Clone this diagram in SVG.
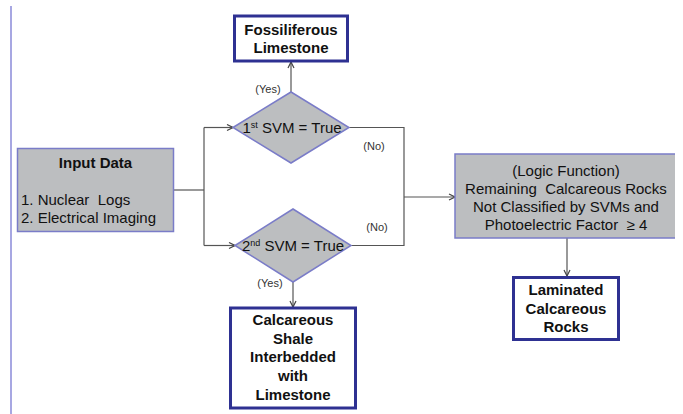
<svg xmlns="http://www.w3.org/2000/svg" width="683" height="414" viewBox="0 0 683 414">
<defs>
<style>
text{font-family:"Liberation Sans",Arial,sans-serif;fill:#111;}
.b{font-weight:bold;font-size:15px;text-anchor:middle;}
.n{font-size:15px;}
.c{text-anchor:middle;}
.lbl{font-size:11px;fill:#333;text-anchor:middle;}
.out{fill:#fff;stroke:#2e3192;stroke-width:3;}
.gray{fill:#bcbec0;stroke:#7a7cc8;stroke-width:1.5;}
.con{fill:none;stroke:#555;stroke-width:1.2;}
</style>
<marker id="ah" markerWidth="8" markerHeight="8" refX="7" refY="4" orient="auto" markerUnits="userSpaceOnUse">
<path d="M1,1 L7,4 L1,7" fill="none" stroke="#444" stroke-width="1.2"/>
</marker>
</defs>
<rect width="683" height="414" fill="#fff"/>
<line x1="11" y1="6" x2="11" y2="414" stroke="#8a8ad8" stroke-width="1.5"/>

<g id="connectors">
<path class="con" d="M174,190 H204"/>
<path class="con" d="M204,127.5 V245.5"/>
<path class="con" d="M204,127.5 H233" marker-end="url(#ah)"/>
<path class="con" d="M204,245.5 H235" marker-end="url(#ah)"/>
<path class="con" d="M291,92 V62" marker-end="url(#ah)"/>
<path class="con" d="M293,282 V307" marker-end="url(#ah)"/>
<path class="con" d="M349,127.5 H404 V245.5 H351"/>
<path class="con" d="M404,197 H455" marker-end="url(#ah)"/>
<path class="con" d="M567,238 V276" marker-end="url(#ah)"/>
<text class="lbl" x="268" y="93">(Yes)</text>
<text class="lbl" x="270" y="287">(Yes)</text>
<text class="lbl" x="374" y="150">(No)</text>
<text class="lbl" x="377" y="231">(No)</text>
</g>

<g id="input">
<rect class="gray" x="17.5" y="148.5" width="156" height="83"/>
<text class="b" x="95.5" y="168">Input Data</text>
<text class="n" x="21" y="205" style="white-space:pre">1. Nuclear  Logs</text>
<text class="n" x="21" y="223">2. Electrical Imaging</text>
</g>

<g id="fossiliferous">
<rect class="out" x="234.5" y="16" width="113" height="45"/>
<text class="b" x="291" y="35">Fossiliferous</text>
<text class="b" x="291" y="53">Limestone</text>
</g>

<g id="svm1">
<polygon class="gray" points="233,127.5 291,92 349,127.5 291,163"/>
<text class="n c" x="292" y="132.5">1<tspan font-size="9" dy="-5">st</tspan><tspan dy="5"> SVM = True</tspan></text>
</g>

<g id="svm2">
<polygon class="gray" points="235,245.5 293,209 351,245.5 293,282"/>
<text class="n c" x="293" y="250.5">2<tspan font-size="9" dy="-5">nd</tspan><tspan dy="5"> SVM = True</tspan></text>
</g>

<g id="calcshale">
<rect class="out" x="230.5" y="308" width="125" height="100"/>
<text class="b" x="293" y="325">Calcareous</text>
<text class="b" x="293" y="343.5">Shale</text>
<text class="b" x="293" y="362">Interbedded</text>
<text class="b" x="293" y="381">with</text>
<text class="b" x="293" y="400">Limestone</text>
</g>

<g id="logic">
<rect x="455" y="154" width="220" height="84" fill="#bcbec0"/>
<path d="M675,154 H455 V238 H675" fill="none" stroke="#7a7cc8" stroke-width="1.5"/>
<text class="n c" x="566" y="176">(Logic Function)</text>
<text class="n c" x="566" y="194" style="white-space:pre">Remaining  Calcareous Rocks</text>
<text class="n c" x="566" y="212">Not Classified by SVMs and</text>
<text class="n c" x="566" y="229.5" style="white-space:pre">Photoelectric Factor  ≥ 4</text>
</g>

<g id="laminated">
<rect class="out" x="513.5" y="277.5" width="105" height="62"/>
<text class="b" x="566" y="295">Laminated</text>
<text class="b" x="566" y="314">Calcareous</text>
<text class="b" x="566" y="332">Rocks</text>
</g>
</svg>
